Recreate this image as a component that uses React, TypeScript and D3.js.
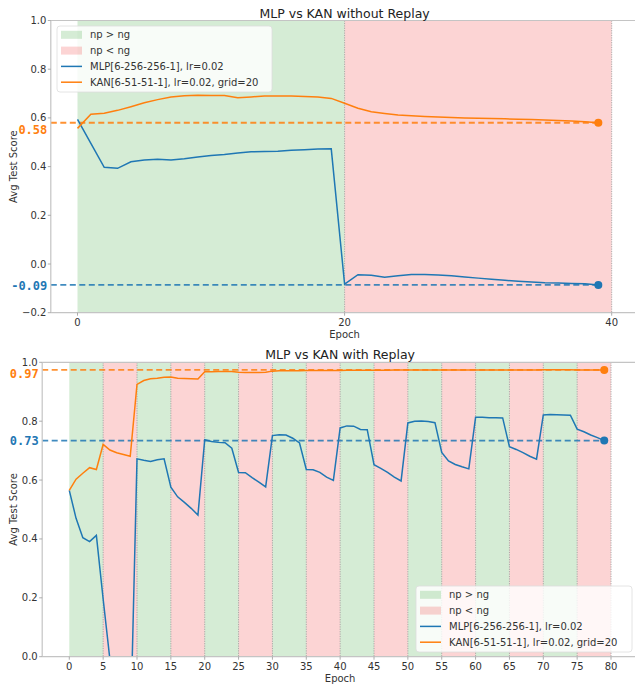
import React from "react";
import * as d3 from "d3";

// ---- data ----
const mlpNoReplay = [
  0.594, 0.495, 0.397, 0.393, 0.42, 0.427, 0.43, 0.427, 0.432, 0.439,
  0.446, 0.45, 0.456, 0.461, 0.462, 0.463, 0.467, 0.469, 0.472, 0.473,
  -0.083, -0.044, -0.046, -0.054, -0.048, -0.043, -0.043, -0.045, -0.048, -0.053,
  -0.058, -0.063, -0.067, -0.071, -0.074, -0.077, -0.078, -0.08, -0.081, -0.086,
];
const kanNoReplay = [
  0.557, 0.615, 0.619, 0.631, 0.646, 0.662, 0.675, 0.686, 0.691, 0.693,
  0.692, 0.692, 0.683, 0.686, 0.69, 0.69, 0.69, 0.688, 0.686, 0.68,
  0.66, 0.64, 0.625, 0.618, 0.612, 0.609, 0.606, 0.604, 0.602, 0.6,
  0.599, 0.598, 0.596, 0.594, 0.593, 0.591, 0.589, 0.587, 0.584, 0.58,
];
const mlpReplay = [
  0.565, 0.47, 0.404, 0.391, 0.412, 0.196, -0.01, -0.3, -0.32, -0.29,
  0.672, 0.667, 0.663, 0.669, 0.672, 0.576, 0.543, 0.524, 0.504, 0.481,
  0.737, 0.731, 0.728, 0.727, 0.708, 0.626, 0.625, 0.608, 0.593, 0.577,
  0.751, 0.754, 0.753, 0.742, 0.726, 0.636, 0.635, 0.626, 0.61, 0.599,
  0.777, 0.784, 0.783, 0.772, 0.771, 0.652, 0.64, 0.626, 0.61, 0.597,
  0.794, 0.8, 0.801, 0.799, 0.795, 0.694, 0.665, 0.653, 0.645, 0.638,
  0.813, 0.813, 0.812, 0.812, 0.811, 0.713, 0.704, 0.693, 0.681, 0.671,
  0.821, 0.823, 0.822, 0.821, 0.82, 0.773, 0.764, 0.753, 0.744, 0.734,
];
const kanReplay = [
  0.565, 0.603, 0.623, 0.642, 0.636, 0.721, 0.702, 0.693, 0.687, 0.681,
  0.925, 0.938, 0.944, 0.946, 0.949, 0.95, 0.946, 0.945, 0.944, 0.943,
  0.968, 0.968, 0.969, 0.969, 0.969, 0.966, 0.965, 0.965, 0.965, 0.966,
  0.97, 0.971, 0.971, 0.971, 0.971, 0.972, 0.972, 0.972, 0.972, 0.972,
  0.972, 0.973, 0.973, 0.973, 0.973, 0.973, 0.973, 0.973, 0.974, 0.974,
  0.974, 0.974, 0.974, 0.974, 0.974, 0.974, 0.974, 0.974, 0.974, 0.974,
  0.974, 0.974, 0.974, 0.974, 0.974, 0.974, 0.974, 0.974, 0.974, 0.974,
  0.975, 0.975, 0.975, 0.975, 0.975, 0.974, 0.974, 0.974, 0.974, 0.974,
];

const noReplayBounds = [0, 20, 40];
const noReplayKinds = ["grow", "shrink"];
const replayBounds = [0, 5, 10, 15, 20, 25, 30, 35, 40, 45, 50, 55, 60, 65, 70, 75, 80];
const replayKinds = [
  "grow", "shrink", "grow", "shrink", "grow", "shrink", "grow", "shrink",
  "grow", "shrink", "grow", "shrink", "grow", "shrink", "grow", "shrink",
];

const noReplayXTicks = [0, 20, 40];
const replayXTicks = [0, 5, 10, 15, 20, 25, 30, 35, 40, 45, 50, 55, 60, 65, 70, 75, 80];
const noReplayYTicks = [-0.2, 0, 0.2, 0.4, 0.6, 0.8, 1.0];
const replayYTicks = [0, 0.2, 0.4, 0.6, 0.8, 1.0];

const legendLabels = ["np > ng", "np < ng", "MLP[6-256-256-1], lr=0.02", "KAN[6-51-51-1], lr=0.02, grid=20"];

const BLUE = "#1f77b4";
const ORANGE = "#ff7f0e";
const GREEN_FILL = "rgba(44,160,44,0.2)";
const RED_FILL = "rgba(240,60,60,0.22)";
const FONT = "DejaVu Sans, sans-serif";
const MONO = "DejaVu Sans Mono, monospace";

function Panel(p: any) {
  const x = d3.scaleLinear().domain(p.xDomain).range([p.left, p.right]);
  const y = d3.scaleLinear().domain(p.yDomain).range([p.bottom, p.top]);
  const line = d3.line<number>().x((_, i) => x(i)).y((d) => y(d));
  const fmt = d3.format(".1f");
  const lastIdx = p.mlp.length - 1;
  const finals = [
    { v: p.kan[lastIdx], c: ORANGE, dy: p.nudge[0] },
    { v: p.mlp[lastIdx], c: BLUE, dy: p.nudge[1] },
  ];
  const lg = p.legend;
  const rowH = 15.8;
  return (
    <g>
      <defs>
        <clipPath id={p.id}>
          <rect x={p.left} y={p.top} width={p.right - p.left} height={p.bottom - p.top} />
        </clipPath>
      </defs>
      <g clipPath={`url(#${p.id})`}>
        {p.kinds.map((k: string, i: number) => (
          <rect
            key={i}
            x={x(p.bounds[i])}
            y={p.top}
            width={x(p.bounds[i + 1]) - x(p.bounds[i])}
            height={p.bottom - p.top}
            fill={k === "grow" ? GREEN_FILL : RED_FILL}
          />
        ))}
        {p.bounds.slice(1).map((b: number) => (
          <line key={b} x1={x(b)} x2={x(b)} y1={p.top} y2={p.bottom} stroke="#999" strokeWidth={0.8} strokeDasharray="1.2,1.2" />
        ))}
        {finals.map((f, i) => (
          <line key={i} x1={p.left} x2={x(lastIdx)} y1={y(f.v)} y2={y(f.v)} stroke={f.c} strokeOpacity={0.85} strokeWidth={1.8} strokeDasharray="6,3.5" />
        ))}
        <path d={line(p.mlp) || ""} fill="none" stroke={BLUE} strokeWidth={1.5} />
        <path d={line(p.kan) || ""} fill="none" stroke={ORANGE} strokeWidth={1.5} />
        {finals.map((f, i) => (
          <circle key={i} cx={x(lastIdx)} cy={y(f.v)} r={4} fill={f.c} />
        ))}
      </g>
      {/* spines */}
      <g stroke="#c4c4c4" strokeWidth={1.2} fill="none">
        <line x1={p.left} x2={p.left} y1={p.top} y2={p.bottom} />
        <line x1={p.left} x2={p.right} y1={p.bottom} y2={p.bottom} />
        <line x1={p.left} x2={p.right} y1={p.top} y2={p.top} />
      </g>
      {/* ticks */}
      <g fontFamily={FONT} fontSize={10} fill="#333">
        {p.yTicks.map((t: number) => (
          <g key={t}>
            <line x1={p.left - 3} x2={p.left} y1={y(t)} y2={y(t)} stroke="#999" strokeWidth={0.8} />
            <text x={p.left - 4.5} y={y(t)} textAnchor="end" dominantBaseline="central">{fmt(t)}</text>
          </g>
        ))}
        {p.xTicks.map((t: number) => (
          <g key={t}>
            <line x1={x(t)} x2={x(t)} y1={p.bottom} y2={p.bottom + 3} stroke="#999" strokeWidth={0.8} />
            <text x={x(t)} y={p.bottom + 13.3} textAnchor="middle">{t}</text>
          </g>
        ))}
      </g>
      {finals.map((f, i) => (
        <text key={i} x={p.left - 3.5} y={y(f.v) + f.dy} textAnchor="end" dominantBaseline="central" fontFamily={MONO} fontWeight="bold" fontSize={p.monoSize} fill={f.c}>
          {f.v.toFixed(2)}
        </text>
      ))}
      <text x={(p.left + p.right) / 2} y={p.top - 3} textAnchor="middle" fontFamily={FONT} fontSize={12.5} fill="#222">{p.title}</text>
      <text x={(p.left + p.right) / 2} y={p.bottom + 25.5} textAnchor="middle" fontFamily={FONT} fontSize={10} fill="#333">Epoch</text>
      <text transform={`translate(13,${(p.top + p.bottom) / 2}) rotate(-90)`} textAnchor="middle" dominantBaseline="central" fontFamily={FONT} fontSize={10} fill="#333">Avg Test Score</text>
      {/* legend */}
      <g transform={`translate(${lg.x},${lg.y})`} fontFamily={FONT} fontSize={10} fill="#333">
        <rect x={0} y={0} width={lg.w} height={66} rx={3} fill="white" fillOpacity={0.82} stroke="#ddd" strokeWidth={0.8} />
        {legendLabels.map((lab, i) => {
          const cy = 8.8 + i * rowH;
          return (
            <g key={lab}>
              {i < 2 ? (
                <rect x={4} y={cy - 4} width={21} height={8} fill={i === 0 ? GREEN_FILL : RED_FILL} />
              ) : (
                <line x1={4} x2={25} y1={cy} y2={cy} stroke={i === 2 ? BLUE : ORANGE} strokeWidth={1.5} />
              )}
              <text x={33} y={cy} dominantBaseline="central">{lab}</text>
            </g>
          );
        })}
      </g>
    </g>
  );
}

export default function App() {
  return (
    <div style={{ position: "fixed", left: 0, top: 0 }}>
      <svg width={635} height={684} style={{ display: "block", background: "white" }}>
        <Panel
          id="clipA"
          title="MLP vs KAN without Replay"
          mlp={mlpNoReplay}
          kan={kanNoReplay}
          bounds={noReplayBounds}
          kinds={noReplayKinds}
          xDomain={[-2, 42]}
          yDomain={[-0.2, 1.0]}
          left={50.8}
          right={638.4}
          top={20.5}
          bottom={312.7}
          xTicks={noReplayXTicks}
          yTicks={noReplayYTicks}
          nudge={[7.5, 1]}
          monoSize={12}
          legend={{ x: 57, y: 26, w: 215 }}
        />
        <Panel
          id="clipB"
          title="MLP vs KAN with Replay"
          mlp={mlpReplay}
          kan={kanReplay}
          bounds={replayBounds}
          kinds={replayKinds}
          xDomain={[-4, 84]}
          yDomain={[0, 1.0]}
          left={42.2}
          right={638.1}
          top={362.3}
          bottom={656.7}
          xTicks={replayXTicks}
          yTicks={replayYTicks}
          nudge={[4, 0]}
          monoSize={12}
          legend={{ x: 416, y: 586, w: 216 }}
        />
      </svg>
    </div>
  );
}
